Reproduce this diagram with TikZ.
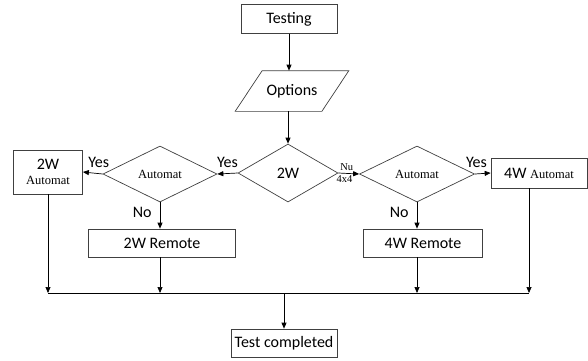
\documentclass[tikz,border=0pt]{standalone}
\usepackage{fontspec}
\setmainfont{Carlito}
\newfontfamily\tnr{Liberation Serif}
\usetikzlibrary{
    shapes.geometric,
    arrows.meta,
    positioning,
    calc,
}

\begin{document}
\begin{tikzpicture}[
    x=1pt, y=-1pt,
    >={Triangle[length=6pt,width=5pt]},
    line width=0.7pt,
    box/.style   = {rectangle, draw=black!75, inner sep=2pt,
                    font=\fontsize{16}{18}\selectfont},
    dec/.style   = {diamond, draw=black!75, aspect=2, inner sep=0pt,
                    font=\fontsize{16}{18}\selectfont},
    lbl/.style   = {font=\fontsize{16}{18}\selectfont, inner sep=1pt},
    tiny/.style  = {font=\tnr\fontsize{10.5}{12}\selectfont, inner sep=1pt},
    tms/.style   = {font=\tnr\fontsize{12.5}{14}\selectfont},
]
\useasboundingbox (0,0) rectangle (588,360);

%% ── Nodes ────────────────────────────────────────────────────────────────────
\node[box, minimum width=96, minimum height=29] (test) at (289,19) {Testing};
\node[box, draw=none, minimum width=86, minimum height=40] (opt) at (292,91) {Options};
\draw[black!75] ([xshift=-13.5]opt.south west) -- ([xshift=-13.5]opt.south east)
    -- ([xshift=13.5]opt.north east) -- ([xshift=13.5]opt.north west) -- cycle;
\node[dec, minimum width=100, minimum height=58] (d2w) at (288,173) {2W};

\node[dec, minimum width=114, minimum height=56, tms] (aut2) at (160,174) {Automat};
\node[box, minimum width=69, minimum height=44, align=center,
      font=\fontsize{16}{15}\selectfont] (w2a) at (48,172)
      {2W\\{\tnr\fontsize{12.5}{14}\selectfont Automat}};
\node[box, minimum width=147, minimum height=28] (w2r) at (162,243) {2W Remote};

\node[dec, minimum width=115, minimum height=56, tms] (aut4) at (417,174) {Automat};
\node[box, minimum width=96, minimum height=30] (w4a) at (539,173)
      {4W {\tnr\fontsize{12.5}{14}\selectfont Automat}};
\node[box, minimum width=119, minimum height=28] (w4r) at (423,243) {4W Remote};

\node[box, minimum width=106, minimum height=28] (done) at (284,343) {Test completed};

\coordinate (bus) at (0,293);

%% ── Top flow ─────────────────────────────────────────────────────────────────
\draw[->] (test.south) -- (test.south |- opt.north);
\draw[->] (opt.south -| d2w.north) -- (d2w.north);

%% ── 2W branch ────────────────────────────────────────────────────────────────
\draw[->] (d2w.west) -- node[lbl, above=5pt] {Yes} (aut2.east);
\draw[->] (aut2.west) -- node[lbl, above=5pt, pos=0.2] {Yes} (w2a.east);
\draw[->] (aut2.south) -- node[lbl, left=7pt, pos=0.4] {No} (w2r.north -| aut2.south);

%% ── 4x4 branch ───────────────────────────────────────────────────────────────
\draw[->] (d2w.east) -- node[tiny, above=1pt, pos=0.4] {Nu} node[tiny, below=1pt, pos=0.3] {4x4} (aut4.west);
\draw[->] (aut4.east) -- node[lbl, above=5pt, pos=0.1] {Yes} (w4a.west);
\draw[->] (aut4.south) -- node[lbl, left=7pt, pos=0.4] {No} (w4r.north -| aut4.south);

%% ── Collect ──────────────────────────────────────────────────────────────────
\draw[->] (w2a.south) -- (w2a.south |- bus);
\draw[->] (w2r.south -| aut2.south) -- (aut2.south |- bus);
\draw[->] (w4r.south -| aut4.south) -- (aut4.south |- bus);
\draw[->] ([xshift=-10]w4a.south) -- ([xshift=-10]w4a.south |- bus);
\draw (w2a.south |- bus) -- ([xshift=-10]w4a.south |- bus);
\draw[->] (done.north |- bus) -- (done.north);

\end{tikzpicture}
\end{document}
